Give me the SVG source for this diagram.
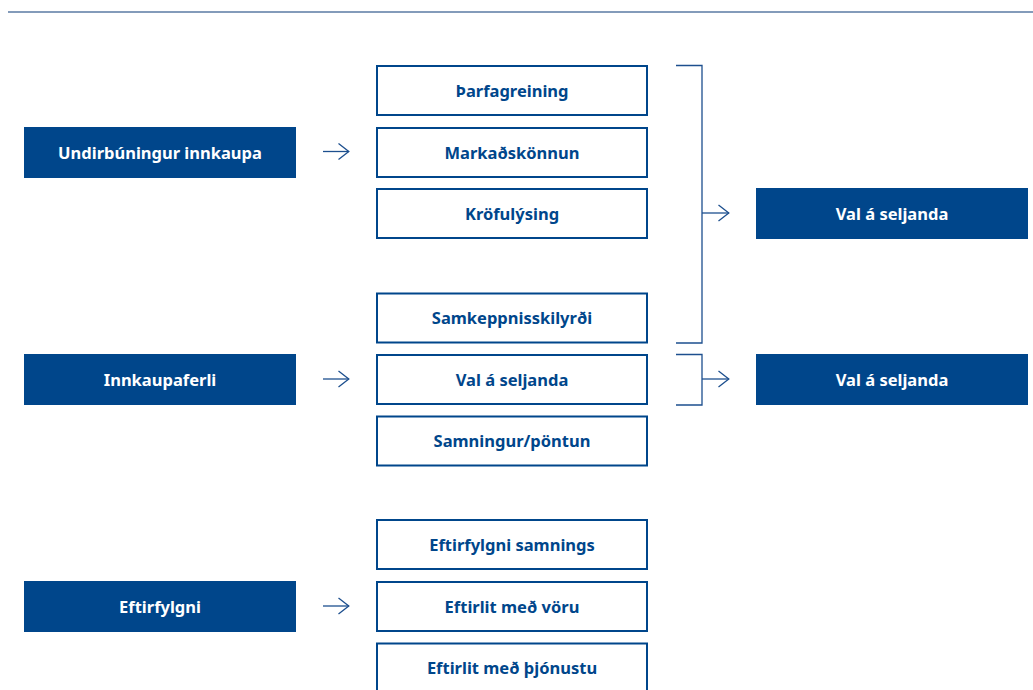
<svg xmlns="http://www.w3.org/2000/svg" width="1033" height="690" viewBox="0 0 1033 690">
<style>
.dark{fill:#00468b}
.out{fill:#fff;stroke:#00468b;stroke-width:2}
.tw{fill:#fff;font-family:"Noto Sans","Open Sans",sans-serif;font-weight:700;font-size:16.5px;text-anchor:middle;dominant-baseline:central}
.tb{fill:#00468b;font-family:"Noto Sans","Open Sans",sans-serif;font-weight:700;font-size:16.5px;text-anchor:middle;dominant-baseline:central}
.ln{fill:none;stroke:#1d4f8e;stroke-width:1.3}
</style>
<defs>
<marker id="ah" viewBox="0 0 12 18" refX="11.5" refY="9" markerWidth="12" markerHeight="18" markerUnits="userSpaceOnUse" orient="auto">
<path d="M1,1 L11.3,9 L1,17" fill="none" stroke="#1d4f8e" stroke-width="1.3"/>
</marker>
</defs>
<rect width="1033" height="690" fill="#fff"/>
<line x1="8" y1="12" x2="1033" y2="12" stroke="#5a7aa3" stroke-width="1.5"/>

<g id="connectors">
<line class="ln" x1="323" y1="151.5" x2="349" y2="151.5" marker-end="url(#ah)"/>
<line class="ln" x1="323" y1="379" x2="349" y2="379" marker-end="url(#ah)"/>
<line class="ln" x1="323" y1="606" x2="349" y2="606" marker-end="url(#ah)"/>
<polyline class="ln" points="676,65.5 702,65.5 702,343 676,343"/>
<line class="ln" x1="702" y1="213" x2="729" y2="213" marker-end="url(#ah)"/>
<polyline class="ln" points="676,354.5 702,354.5 702,405 676,405"/>
<line class="ln" x1="702" y1="379" x2="729" y2="379" marker-end="url(#ah)"/>
</g>

<g id="n-undirbuningur"><rect class="dark" x="24" y="127" width="272" height="51"/><text class="tw" x="160" y="152">Undirbúningur innkaupa</text></g>
<g id="n-innkaupaferli"><rect class="dark" x="24" y="354" width="272" height="51"/><text class="tw" x="160" y="379">Innkaupaferli</text></g>
<g id="n-eftirfylgni"><rect class="dark" x="24" y="581" width="272" height="51"/><text class="tw" x="160" y="606">Eftirfylgni</text></g>

<g id="n-tharfagreining"><rect class="out" x="377" y="66" width="270" height="49"/><text class="tb" x="512" y="90">Þarfagreining</text></g>
<g id="n-markadskonnun"><rect class="out" x="377" y="128" width="270" height="49"/><text class="tb" x="512" y="152">Markaðskönnun</text></g>
<g id="n-krofulysing"><rect class="out" x="377" y="189" width="270" height="49"/><text class="tb" x="512" y="213">Kröfulýsing</text></g>
<g id="n-samkeppnisskilyrdi"><rect class="out" x="377" y="293.5" width="270" height="49"/><text class="tb" x="512" y="317.5">Samkeppnisskilyrði</text></g>
<g id="n-val-mid"><rect class="out" x="377" y="355" width="270" height="49"/><text class="tb" x="512" y="379">Val á seljanda</text></g>
<g id="n-samningur"><rect class="out" x="377" y="416.5" width="270" height="49"/><text class="tb" x="512" y="440.5">Samningur/pöntun</text></g>
<g id="n-eftirfylgni-samnings"><rect class="out" x="377" y="520" width="270" height="49"/><text class="tb" x="512" y="544">Eftirfylgni samnings</text></g>
<g id="n-eftirlit-voru"><rect class="out" x="377" y="582" width="270" height="49"/><text class="tb" x="512" y="606">Eftirlit með vöru</text></g>
<g id="n-eftirlit-thjonustu"><rect class="out" x="377" y="643.5" width="270" height="49"/><text class="tb" x="512" y="667.5">Eftirlit með þjónustu</text></g>

<g id="n-val-1"><rect class="dark" x="756" y="188" width="272" height="51"/><text class="tw" x="892" y="213">Val á seljanda</text></g>
<g id="n-val-2"><rect class="dark" x="756" y="354" width="272" height="51"/><text class="tw" x="892" y="379">Val á seljanda</text></g>
</svg>
